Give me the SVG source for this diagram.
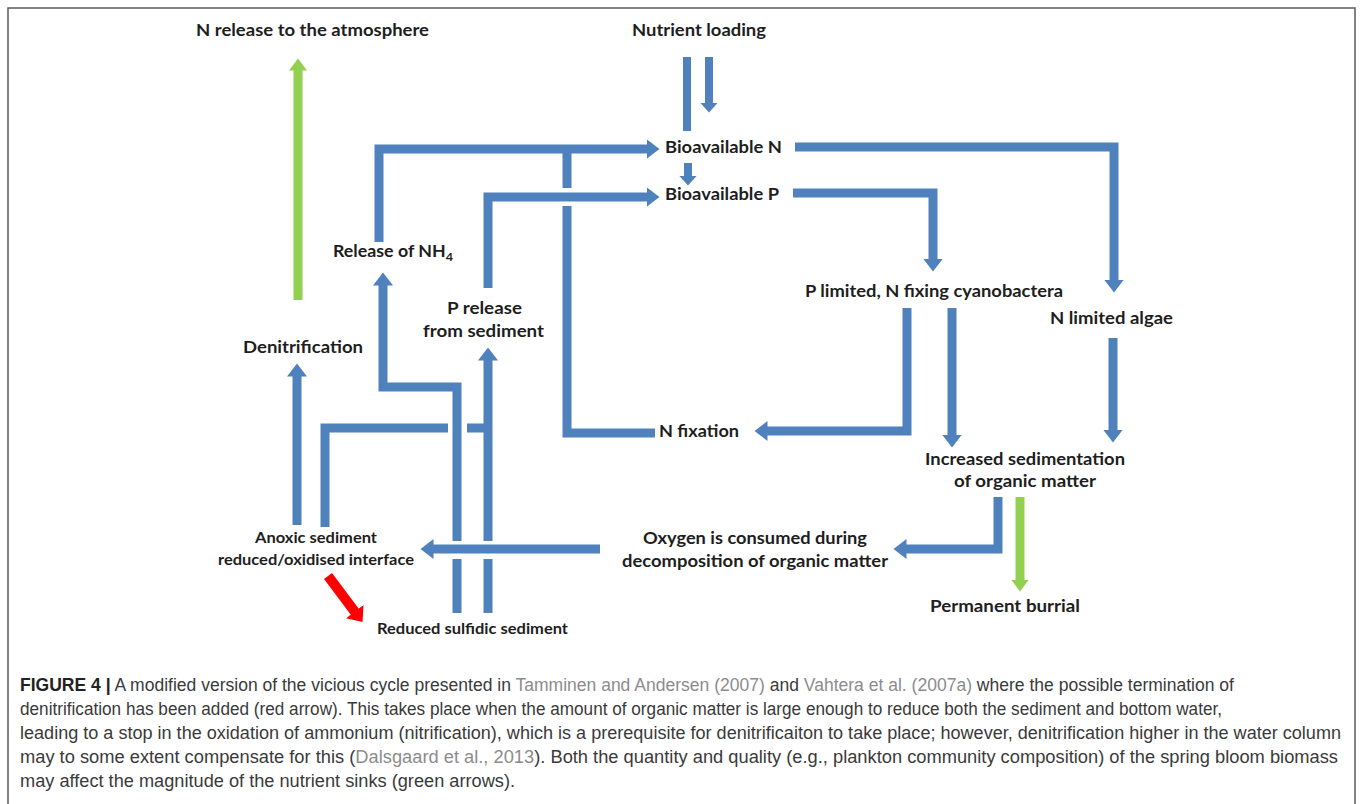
<svg xmlns="http://www.w3.org/2000/svg" width="1360" height="804" viewBox="0 0 1360 804">
<style>
.lbl{font-family:Lato,"Open Sans","Liberation Sans",sans-serif;font-weight:bold;font-size:17px;fill:#1e1e1e}
.sm{font-size:16px}
.cap{font-family:"Liberation Sans",Arial,sans-serif;font-size:17.5px;fill:#3a3a3a}
.ref{fill:#8c8c8c}
.b{fill:none;stroke:#4F81BD;stroke-width:9;stroke-linejoin:miter}
.bs{fill:none;stroke:#4F81BD;stroke-width:8}
.g{fill:none;stroke:#92D050;stroke-width:9}
.r{fill:none;stroke:#FF0000;stroke-width:10}
</style>
<defs>
<marker id="hb" markerUnits="userSpaceOnUse" markerWidth="14" markerHeight="20" refX="0.5" refY="10" orient="auto"><path d="M0,0 L13,10 L0,20 z" fill="#4F81BD"/></marker>
<marker id="hbs" markerUnits="userSpaceOnUse" markerWidth="11" markerHeight="18" refX="0.5" refY="9" orient="auto"><path d="M0,0 L10,9 L0,18 z" fill="#4F81BD"/></marker>
<marker id="hg" markerUnits="userSpaceOnUse" markerWidth="13" markerHeight="20" refX="0.5" refY="10" orient="auto"><path d="M0,1 L12,10 L0,19 z" fill="#92D050"/></marker>
<marker id="hr" markerUnits="userSpaceOnUse" markerWidth="14" markerHeight="22" refX="0.5" refY="11" orient="auto"><path d="M0,0 L13,11 L0,22 z" fill="#FF0000"/></marker>
</defs>
<rect width="1360" height="804" fill="#ffffff"/>
<path d="M8,810 V8 H1355 V810" fill="none" stroke="#5a5a5a" stroke-width="1.5"/>

<g id="connectors">
<path class="bs" d="M687,57 V131"/>
<path class="bs" d="M709,57 V103" marker-end="url(#hbs)"/>
<path class="bs" d="M688,163 V176" marker-end="url(#hbs)"/>
<path class="b" d="M795,147 H1114 V280" marker-end="url(#hb)"/>
<path class="b" d="M793,193 H933 V259" marker-end="url(#hb)"/>
<path class="b" d="M907,308 V431 H767" marker-end="url(#hb)"/>
<path class="b" d="M952,308 V435" marker-end="url(#hb)"/>
<path class="b" d="M1113,338 V430" marker-end="url(#hb)"/>
<path class="b" d="M998,497 V549 H906" marker-end="url(#hb)"/>
<path class="b" d="M600,549 H433" marker-end="url(#hb)"/>
<path class="b" d="M457,613 V559"/>
<path class="b" d="M457,541 V387 H383 V285" marker-end="url(#hb)"/>
<path class="b" d="M488,613 V559"/>
<path class="b" d="M488,541 V360" marker-end="url(#hb)"/>
<path class="b" d="M379,242 V149 H647" marker-end="url(#hb)"/>
<path class="b" d="M488,288 V197 H647" marker-end="url(#hb)"/>
<path class="b" d="M655,433 H567 V206"/>
<path class="b" d="M567,188 V149"/>
<path class="b" d="M297,525 V376" marker-end="url(#hb)"/>
<path class="b" d="M325,527 V428 H448"/>
<path class="b" d="M467,428 H488"/>
<path class="g" d="M298,300 V70" marker-end="url(#hg)"/>
<path class="g" d="M1020,497 V580" marker-end="url(#hg)"/>
<path class="r" d="M328,576 L355,612" marker-end="url(#hr)"/>
</g>

<g id="n-atmosphere"><text class="lbl" x="196" y="36" textLength="233" lengthAdjust="spacingAndGlyphs">N release to the atmosphere</text></g>
<g id="n-nutrient"><text class="lbl" x="632" y="36" textLength="134" lengthAdjust="spacingAndGlyphs">Nutrient loading</text></g>
<g id="n-bioN"><text class="lbl" x="665" y="153" textLength="117" lengthAdjust="spacingAndGlyphs">Bioavailable N</text></g>
<g id="n-bioP"><text class="lbl" x="665" y="200" textLength="114" lengthAdjust="spacingAndGlyphs">Bioavailable P</text></g>
<g id="n-plimited"><text class="lbl" x="805" y="297" textLength="258" lengthAdjust="spacingAndGlyphs">P limited, N fixing cyanobactera</text></g>
<g id="n-nlimited"><text class="lbl" x="1050" y="324" textLength="123" lengthAdjust="spacingAndGlyphs">N limited algae</text></g>
<g id="n-sedimentation"><text class="lbl" x="925" y="465" textLength="200" lengthAdjust="spacingAndGlyphs">Increased sedimentation</text><text class="lbl" x="954" y="487" textLength="142" lengthAdjust="spacingAndGlyphs">of organic matter</text></g>
<g id="n-burial"><text class="lbl" x="930" y="612" textLength="150" lengthAdjust="spacingAndGlyphs">Permanent burrial</text></g>
<g id="n-oxygen"><text class="lbl" x="643" y="544" textLength="224" lengthAdjust="spacingAndGlyphs">Oxygen is consumed during</text><text class="lbl" x="622" y="567" textLength="266" lengthAdjust="spacingAndGlyphs">decomposition of organic matter</text></g>
<g id="n-nfixation"><text class="lbl" x="659" y="437" textLength="80" lengthAdjust="spacingAndGlyphs">N fixation</text></g>
<g id="n-denitrification"><text class="lbl" x="243" y="353" textLength="120" lengthAdjust="spacingAndGlyphs">Denitrification</text></g>
<g id="n-prelease"><text class="lbl" x="447" y="314" textLength="75" lengthAdjust="spacingAndGlyphs">P release</text><text class="lbl" x="423" y="337" textLength="121" lengthAdjust="spacingAndGlyphs">from sediment</text></g>
<g id="n-nh4"><text class="lbl" x="333" y="257" textLength="120" lengthAdjust="spacingAndGlyphs">Release of NH<tspan font-size="12" dy="4">4</tspan></text></g>
<g id="n-anoxic"><text class="lbl sm" x="255" y="543" textLength="122" lengthAdjust="spacingAndGlyphs">Anoxic sediment</text><text class="lbl sm" x="218" y="565" textLength="196" lengthAdjust="spacingAndGlyphs">reduced/oxidised interface</text></g>
<g id="n-sulfidic"><text class="lbl sm" x="377" y="634" textLength="191" lengthAdjust="spacingAndGlyphs">Reduced sulfidic sediment</text></g>

<g id="caption">
<text class="cap" x="20" y="691" textLength="1214" lengthAdjust="spacingAndGlyphs"><tspan font-weight="bold" fill="#222">FIGURE 4 |</tspan> A modified version of the vicious cycle presented in <tspan class="ref">Tamminen and Andersen (2007)</tspan> and <tspan class="ref">Vahtera et al. (2007a)</tspan> where the possible termination of</text>
<text class="cap" x="20" y="715" textLength="1202" lengthAdjust="spacingAndGlyphs">denitrification has been added (red arrow). This takes place when the amount of organic matter is large enough to reduce both the sediment and bottom water,</text>
<text class="cap" x="20" y="739" textLength="1321" lengthAdjust="spacingAndGlyphs">leading to a stop in the oxidation of ammonium (nitrification), which is a prerequisite for denitrificaiton to take place; however, denitrification higher in the water column</text>
<text class="cap" x="20" y="763" textLength="1318" lengthAdjust="spacingAndGlyphs">may to some extent compensate for this (<tspan class="ref">Dalsgaard et al., 2013</tspan>). Both the quantity and quality (e.g., plankton community composition) of the spring bloom biomass</text>
<text class="cap" x="20" y="787" textLength="495" lengthAdjust="spacingAndGlyphs">may affect the magnitude of the nutrient sinks (green arrows).</text>
</g>
</svg>
